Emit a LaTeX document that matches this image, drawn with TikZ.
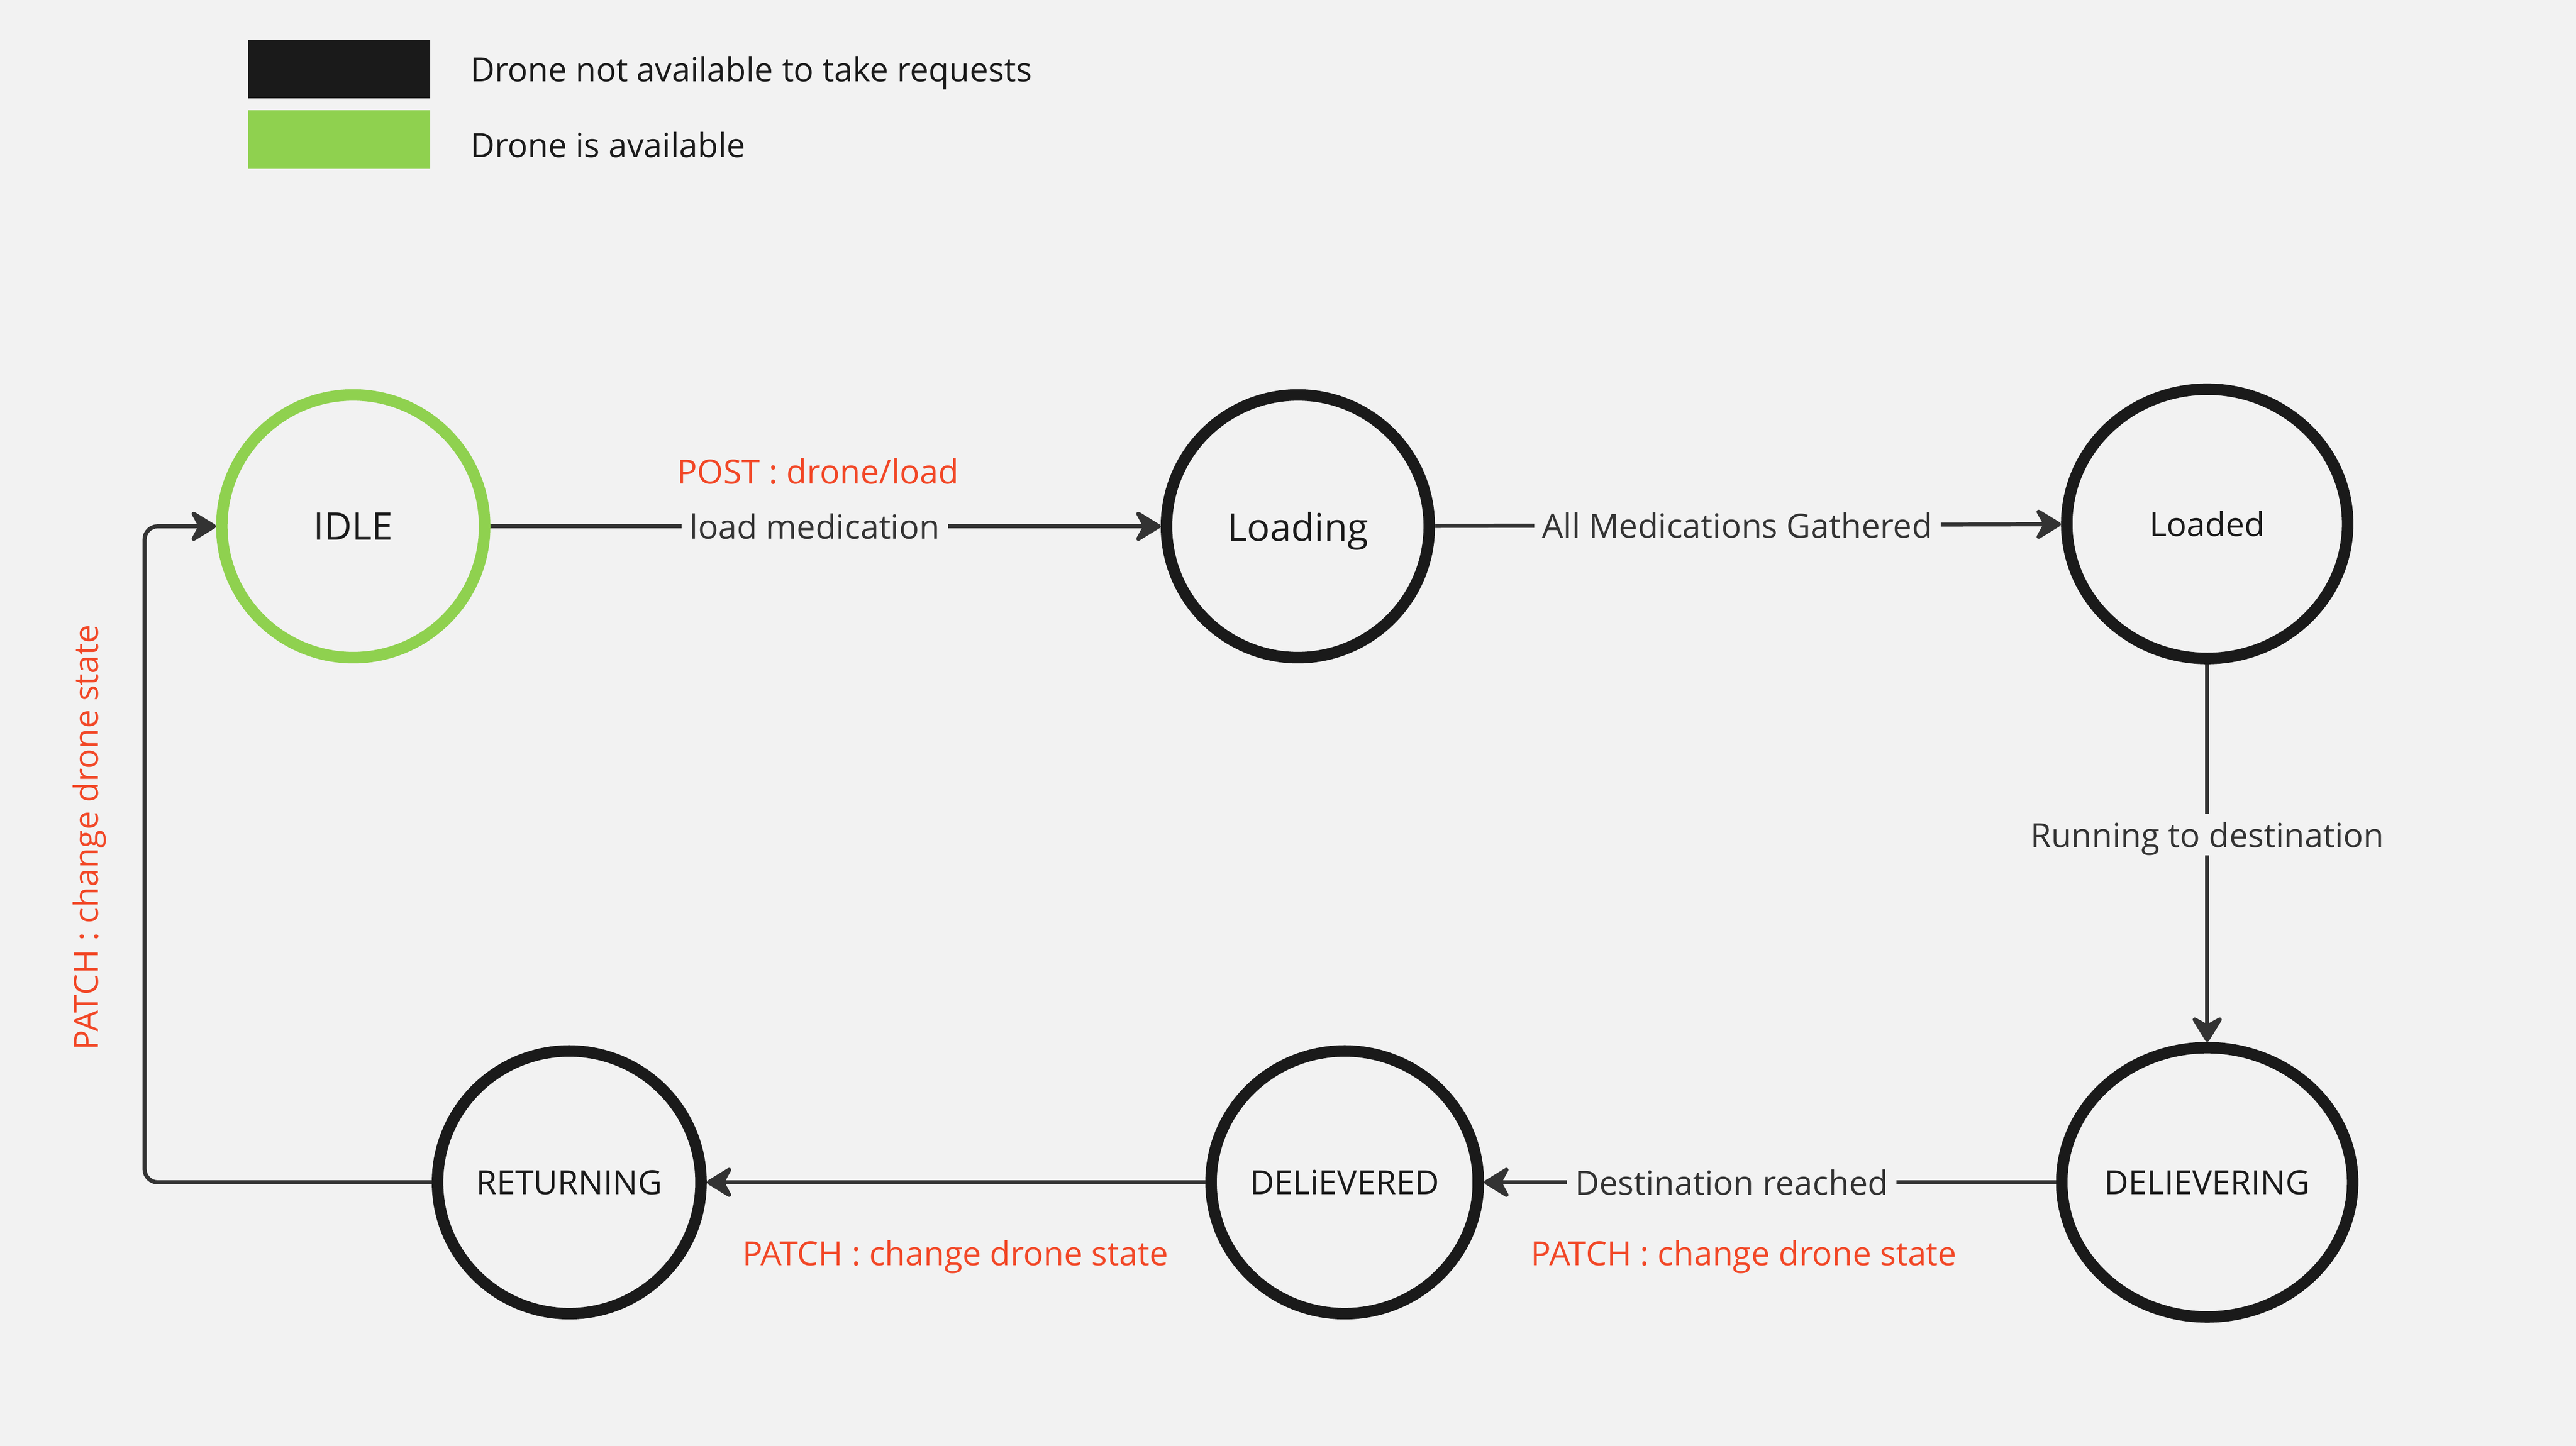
\documentclass[tikz,border=0pt]{standalone}
\usepackage{fontspec}
\setmainfont{Open Sans}
\usetikzlibrary{arrows.meta,shapes.geometric}

\definecolor{bgcol}{HTML}{F2F2F2}
\definecolor{busy}{HTML}{1A1A1A}
\definecolor{avail}{HTML}{8FD14F}
\definecolor{wire}{HTML}{333333}
\definecolor{apired}{HTML}{F24726}

\begin{document}
\begin{tikzpicture}[x=0.02cm,y=-0.02cm,
  state/.style={ellipse,draw=busy,line width=0.14cm,minimum width=3.2cm,minimum height=3.2cm,inner sep=0pt,text depth=0pt,text=busy,font=\fontsize{11.55}{13}\selectfont},
  wide/.style={minimum width=3.42cm,minimum height=3.28cm},
  big/.style={font=\fontsize{13.2}{15}\selectfont},
  edge/.style={draw=wire,line width=0.05cm,-{Stealth[length=0.36cm,width=0.44cm,inset=0.12cm,round]}},
  elabel/.style={fill=bgcol,inner xsep=0.1cm,inner ysep=0.1cm,text depth=0pt,text=wire,font=\fontsize{11.55}{13}\selectfont},
  api/.style={text=apired,inner sep=0pt,text depth=0pt,font=\fontsize{11.55}{13}\selectfont},
  legbox/.style={minimum width=2.22cm,minimum height=0.72cm,inner sep=0pt},
  legtext/.style={anchor=west,inner sep=0pt,text depth=0pt,text=busy,font=\fontsize{11.55}{13}\selectfont}]

\fill[bgcol] (0,0) rectangle (1568,880.5);
\useasboundingbox (0,0) rectangle (1568,880.5);

% key
\node[legbox,fill=busy] (keybusy) at (206.5,42) {};
\node[legbox,fill=avail] (keyfree) at (206.5,85) {};
\node[legtext] (txtbusy) at (286,42) {Drone not available to take requests};
\node[legtext] (txtfree) at (286,88) {Drone is available};

% states
\node[state,draw=avail,big] (IDLE) at (215,320.5) {IDLE};
\node[state,big] (LOADING) at (790,320.5) {Loading};
\node[state,wide] (LOADED) at (1343.5,319) {Loaded};
\node[state,wide] (DELIVERING) at (1343.5,720) {DELIEVERING};
\node[state] (DELIVERED) at (818.5,720) {DELiEVERED};
\node[state] (RETURNING) at (346.5,720) {RETURNING};
\coordinate (turn) at (88,720);

% transitions
\draw[edge] (IDLE) -- node[elabel,pos=0.484] (loadmed) {load medication} (LOADING);
\draw[edge] (LOADING) -- node[elabel,pos=0.483] (gathered) {All Medications Gathered} (LOADED);
\draw[edge] (LOADED) -- node[elabel,pos=0.451] (running) {Running to destination} (DELIVERING);
\draw[edge] (DELIVERING) -- node[elabel,pos=0.567] (reached) {Destination reached} (DELIVERED);
\draw[edge] (DELIVERED) -- (RETURNING);
\draw[edge,rounded corners=0.16cm] (RETURNING) -- (turn) |- (IDLE);

% api calls
\node[api] (post) at (498,287) {POST : drone/load};
\node[api] (patchA) at (1061.5,763) {PATCH : change drone state};
\node[api] (patchB) at (581.5,763) {PATCH : change drone state};
\node[api,rotate=90] (patchC) at (52,510) {PATCH : change drone state};

\end{tikzpicture}
\end{document}
